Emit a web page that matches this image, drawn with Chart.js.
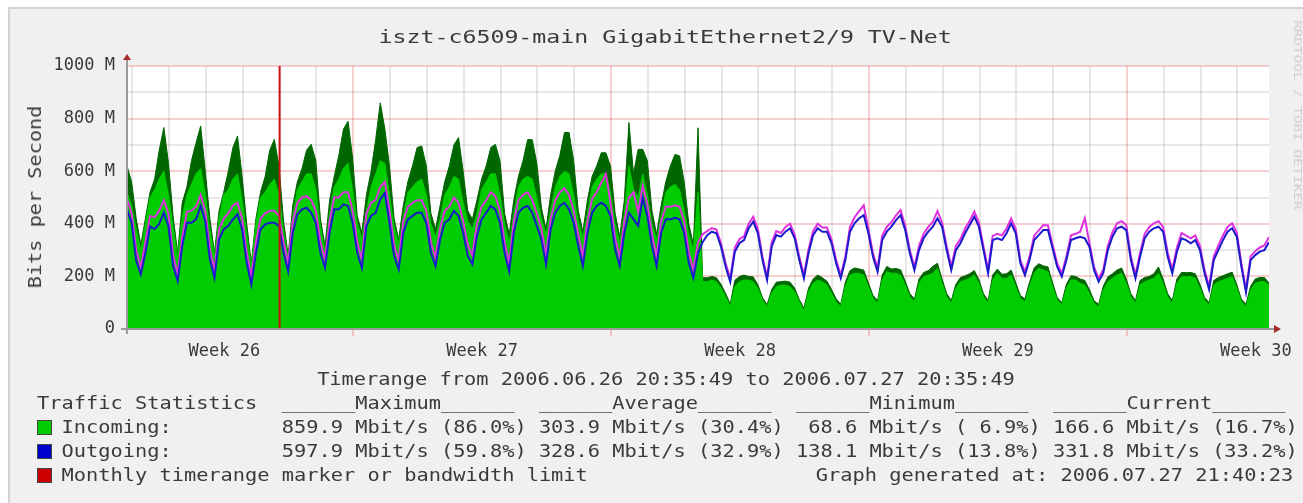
<!DOCTYPE html>
<html lang="en">
<head>
<meta charset="UTF-8">
<title>iszt-c6509-main GigabitEthernet2/9 TV-Net</title>
<script src="https://cdn.jsdelivr.net/npm/chart.js"></script>
<style>
    body { margin: 0; background: #fff; width: 1303px; height: 503px; overflow: hidden; position: relative; }
    #frame {
        position: absolute; left: 8px; top: 7px; width: 1295px; height: 496px;
        background: #f0f0f0; border-top: 2px solid #d2d2d2; border-left: 2px solid #d2d2d2;
        box-sizing: border-box;
    }
    #chart { position: absolute; left: 0; top: 0; }
    .mono {
        position: absolute; font-family: "DejaVu Sans Mono", monospace; font-size: 17px;
        line-height: 20px; color: #3a3a3a; white-space: pre;
    }
    .stretch { transform-origin: 0 50%; transform: scaleX(1.196); }
    .box { position: absolute; width: 13px; height: 13px; border: 1px solid #444; }
</style>
</head>
<body>
<div id="frame"></div>
<canvas id="chart" width="1303" height="503"></canvas>

<!-- title, axis title and the statistics block are plain text -->
<div class="mono" style="left:0; top:27px; width:1330px; text-align:center; font-size:18px;"><span style="display:inline-block; transform:scaleX(1.29);">iszt-c6509-main GigabitEthernet2/9 TV-Net</span></div>
<div class="mono" style="left:35px; top:197px; transform:translate(-50%,-50%) rotate(-90deg) scaleX(1.19);">Bits per Second</div>
<div class="mono" style="left:1297px; top:115px; font-size:11px; color:#cfcfcf; transform:translate(-50%,-50%) rotate(90deg) scaleX(1.3);">RRDTOOL / TOBI OETIKER</div>
<div id="stats"></div>

<script>
    // samples every 3 hours, first one at 2006-06-26 20:35:49
    const STEP_H = 3;
    const START = Date.UTC(2006, 5, 26, 20, 35, 49);

    // incoming, maximum (dark green area)
    const inMax = [
        620, 560, 420, 320, 420, 520, 570, 680,
        766, 632, 430, 290, 480, 540, 640, 708,
        772, 600, 420, 290, 450, 520, 600, 690,
        734, 580, 400, 250, 420, 520, 580, 680,
        721, 620, 410, 280, 470, 560, 610, 680,
        702, 640, 420, 316, 490, 580, 660, 760,
        790, 650, 430, 366, 510, 600, 720, 860,
        760, 620, 420, 341, 470, 560, 620, 690,
        696, 620, 440, 380, 470, 560, 620, 700,
        728, 600, 450, 417, 490, 570, 620, 690,
        702, 640, 440, 360, 490, 580, 640, 720,
        720, 630, 460, 380, 510, 600, 660, 747,
        747, 640, 450, 370, 490, 580, 620, 670,
        670, 620, 440, 350, 490, 785, 590, 683,
        683, 640, 450, 360, 470, 560, 620, 664,
        658, 560, 400, 320, 765, 195, 195, 200,
        195, 170, 135, 95, 185, 200, 205, 200,
        198, 168, 120, 92, 150, 178, 180, 182,
        178, 155, 112, 79, 155, 190, 205, 195,
        182, 150, 115, 94, 178, 222, 232, 228,
        224, 175, 128, 108, 205, 238, 228, 230,
        225, 182, 135, 114, 190, 215, 222, 238,
        250, 190, 135, 108, 170, 196, 202, 210,
        222, 188, 134, 108, 205, 228, 208, 210,
        224, 176, 128, 114, 178, 232, 248, 240,
        236, 176, 120, 100, 170, 202, 200, 190,
        185, 150, 108, 93, 162, 198, 210, 224,
        232, 190, 134, 108, 184, 196, 200, 210,
        236, 190, 134, 108, 190, 215, 214, 215,
        210, 170, 120, 100, 184, 196, 202, 210,
        216, 168, 114, 94, 162, 190, 196, 196,
        175
    ];

    // incoming, average (bright green area)
    const inAvg = [
        520, 470, 380, 300, 400, 500, 530, 570,
        600, 510, 390, 270, 430, 510, 550, 590,
        610, 510, 380, 275, 420, 510, 530, 570,
        590, 490, 360, 240, 400, 500, 520, 550,
        570, 510, 370, 265, 430, 530, 560, 590,
        590, 530, 390, 290, 440, 540, 570, 610,
        630, 530, 400, 345, 450, 540, 590, 640,
        630, 510, 390, 325, 430, 520, 540, 560,
        570, 510, 400, 350, 420, 510, 540, 580,
        570, 480, 410, 380, 440, 530, 560, 590,
        590, 510, 400, 330, 440, 540, 570, 580,
        570, 500, 420, 360, 450, 540, 580, 600,
        590, 510, 410, 350, 440, 540, 570, 590,
        590, 520, 400, 330, 440, 620, 530, 500,
        590, 510, 400, 340, 430, 520, 540, 550,
        530, 450, 360, 300, 520, 180, 180, 186,
        180, 155, 123, 85, 161, 180, 186, 186,
        180, 155, 110, 85, 136, 161, 167, 167,
        161, 142, 104, 69, 142, 174, 186, 180,
        167, 136, 104, 85, 161, 205, 212, 212,
        205, 161, 117, 98, 186, 218, 212, 212,
        205, 167, 123, 104, 174, 199, 205, 212,
        231, 174, 123, 98, 155, 180, 186, 193,
        205, 174, 123, 98, 186, 212, 193, 193,
        205, 161, 117, 104, 161, 212, 231, 224,
        218, 161, 110, 91, 155, 186, 186, 174,
        167, 136, 98, 85, 148, 180, 193, 205,
        212, 174, 123, 98, 167, 180, 186, 193,
        212, 174, 123, 98, 174, 199, 199, 199,
        193, 155, 110, 91, 167, 180, 186, 193,
        199, 155, 104, 85, 148, 174, 180, 180,
        167
    ];

    // outgoing, maximum (magenta line)
    const outMax = [
        495, 440, 300, 235, 330, 430, 425, 450,
        490, 440, 280, 210, 350, 445, 450, 465,
        510, 450, 300, 225, 380, 420, 440, 470,
        480, 420, 290, 200, 330, 420, 440, 450,
        450, 430, 330, 250, 410, 480, 500, 505,
        490, 450, 330, 265, 410, 500, 500, 520,
        520, 450, 330, 265, 440, 480, 490, 540,
        560, 450, 320, 260, 410, 465, 480, 490,
        490, 450, 330, 270, 385, 450, 465, 500,
        480, 410, 320, 280, 400, 465, 490, 520,
        505, 450, 330, 250, 410, 490, 510, 520,
        490, 440, 380, 280, 420, 490, 520, 535,
        510, 450, 360, 275, 410, 495, 520, 556,
        590, 480, 345, 275, 410, 500, 520, 445,
        545, 475, 360, 275, 410, 465, 465, 470,
        465, 410, 290, 225, 330, 360, 372, 384,
        378, 325, 250, 192, 310, 342, 352, 400,
        427, 380, 275, 198, 330, 372, 365, 388,
        400, 358, 275, 205, 302, 372, 400, 386,
        386, 340, 262, 205, 276, 388, 425, 448,
        470, 380, 288, 230, 355, 388, 406, 432,
        452, 392, 300, 236, 316, 362, 388, 407,
        448, 405, 315, 238, 316, 342, 382, 412,
        446, 405, 314, 225, 354, 362, 356, 382,
        420, 380, 262, 218, 276, 355, 375, 395,
        394, 320, 250, 210, 276, 356, 362, 370,
        421, 328, 236, 192, 225, 316, 368, 402,
        410, 395, 276, 206, 290, 362, 388, 402,
        410, 388, 290, 226, 310, 365, 355, 345,
        356, 316, 225, 162, 276, 318, 356, 388,
        402, 368, 250, 150, 276, 296, 310, 318,
        350
    ];

    // outgoing, average (blue line)
    const outAvg = [
        455, 404, 260, 208, 290, 390, 380, 400,
        442, 392, 240, 183, 316, 404, 404, 417,
        468, 410, 265, 195, 341, 379, 392, 417,
        436, 379, 252, 170, 290, 379, 398, 404,
        404, 392, 290, 220, 366, 436, 455, 461,
        442, 404, 290, 233, 366, 455, 455, 474,
        468, 404, 290, 233, 392, 430, 442, 493,
        518, 404, 278, 227, 366, 417, 430, 442,
        442, 404, 290, 240, 341, 404, 417, 449,
        430, 366, 278, 246, 354, 417, 442, 468,
        455, 404, 290, 220, 366, 442, 461, 468,
        442, 392, 341, 246, 379, 442, 468, 480,
        455, 404, 316, 240, 366, 442, 468, 480,
        468, 430, 303, 240, 366, 442, 417, 392,
        499, 430, 316, 240, 366, 417, 417, 423,
        417, 366, 252, 195, 290, 330, 357, 370,
        364, 313, 237, 180, 294, 326, 338, 383,
        408, 364, 262, 186, 313, 357, 351, 370,
        383, 345, 262, 193, 288, 357, 383, 370,
        370, 326, 250, 193, 262, 370, 402, 421,
        433, 364, 275, 218, 338, 370, 389, 414,
        433, 376, 288, 224, 300, 345, 370, 389,
        421, 389, 300, 224, 300, 326, 364, 395,
        427, 389, 300, 212, 338, 345, 338, 364,
        402, 364, 250, 205, 262, 338, 357, 376,
        376, 307, 237, 199, 262, 338, 345, 351,
        345, 313, 224, 180, 212, 300, 351, 383,
        389, 376, 262, 193, 275, 345, 370, 383,
        389, 370, 275, 212, 294, 345, 338, 326,
        338, 300, 212, 150, 262, 300, 338, 370,
        383, 351, 237, 140, 262, 281, 294, 300,
        330
    ];

    const weekLabels = ['Week 26', 'Week 27', 'Week 28', 'Week 29', 'Week 30'];
    const weekCenterDays = [[6, 29], [7, 6], [7, 13], [7, 20], [7, 27]];   // Thursdays, 12:00
    const mondayDays = [[7, 3], [7, 10], [7, 17], [7, 24]];
    const monthMarkerDay = [7, 1];

    const statHeaders = ['______Maximum______', '______Average______', '______Minimum______', '______Current______'];
    const statsIn = ['859.9 Mbit/s (86.0%)', '303.9 Mbit/s (30.4%)', ' 68.6 Mbit/s ( 6.9%)', '166.6 Mbit/s (16.7%)'];
    const statsOut = ['597.9 Mbit/s (59.8%)', '328.6 Mbit/s (32.9%)', '138.1 Mbit/s (13.8%)', '331.8 Mbit/s (33.2%)'];

    const hoursAt = (m, d, h) => (Date.UTC(2006, m - 1, d, h || 0) - START) / 3600000;
    const toPoints = arr => arr.map((v, i) => ({ x: i * STEP_H, y: v }));

    const END_H = (inAvg.length - 1) * STEP_H;
    const midnights = [];
    for (let k = 0; k <= 30; k++) midnights.push((Date.UTC(2006, 5, 27 + k) - START) / 3600000);
    const mondays = mondayDays.map(([m, d]) => hoursAt(m, d));
    const weekCenters = weekCenterDays.map(([m, d]) => hoursAt(m, d, 12));
    const monthMarker = hoursAt(monthMarkerDay[0], monthMarkerDay[1]);

    const MAJOR = 'rgba(235, 110, 110, 0.33)';
    const MINOR = 'rgba(110, 110, 110, 0.17)';
    const NONE = 'rgba(0,0,0,0)';

    Chart.defaults.font.family = "'DejaVu Sans Mono', monospace";
    Chart.defaults.font.size = 17;
    Chart.defaults.color = '#3a3a3a';

    const plotBackground = {
        id: 'plotBackground',
        beforeDraw(chart) {
            const a = chart.chartArea, ctx = chart.ctx;
            ctx.save();
            ctx.fillStyle = '#ffffff';
            ctx.fillRect(a.left, a.top, a.right - a.left, a.bottom - a.top);
            ctx.restore();
        }
    };

    // rrdtool style axis lines with little arrow heads
    const axisArrows = {
        id: 'axisArrows',
        afterDraw(chart) {
            const a = chart.chartArea, ctx = chart.ctx;
            ctx.save();
            ctx.strokeStyle = '#9a9a9a';
            ctx.lineWidth = 2;
            ctx.beginPath();
            ctx.moveTo(a.left - 6, a.bottom);
            ctx.lineTo(a.right + 6, a.bottom);
            ctx.moveTo(a.left, a.bottom + 5);
            ctx.lineTo(a.left, a.top - 8);
            ctx.stroke();
            ctx.fillStyle = '#a52a2a';
            ctx.beginPath();
            ctx.moveTo(a.right + 5, a.bottom - 4);
            ctx.lineTo(a.right + 12, a.bottom);
            ctx.lineTo(a.right + 5, a.bottom + 4);
            ctx.fill();
            ctx.beginPath();
            ctx.moveTo(a.left - 4, a.top - 6);
            ctx.lineTo(a.left, a.top - 12);
            ctx.lineTo(a.left + 4, a.top - 6);
            ctx.fill();
            ctx.restore();
        }
    };

    new Chart(document.getElementById('chart'), {
        type: 'line',
        data: {
            datasets: [
                { label: 'Monthly timerange marker', data: [{ x: monthMarker, y: 0 }, { x: monthMarker, y: 1000 }],
                  borderColor: '#cc1111', borderWidth: 2, pointRadius: 0, fill: false, order: 0 },
                { label: 'Outgoing', data: toPoints(outAvg), borderColor: '#1a1acc', borderWidth: 2,
                  pointRadius: 0, fill: false, order: 1 },
                { label: 'Outgoing max', data: toPoints(outMax), borderColor: '#e030e0', borderWidth: 2,
                  pointRadius: 0, fill: false, order: 2 },
                { label: 'Incoming', data: toPoints(inAvg), borderColor: '#00cc00', backgroundColor: '#00cc00',
                  borderWidth: 1, pointRadius: 0, fill: 'origin', order: 3 },
                { label: 'Incoming max', data: toPoints(inMax), borderColor: '#006600', backgroundColor: '#006600',
                  borderWidth: 1, pointRadius: 0, fill: 'origin', order: 4 }
            ]
        },
        options: {
            responsive: false,
            animation: false,
            devicePixelRatio: 1,
            layout: { padding: { left: 0, right: 34, top: 66, bottom: 134 } },
            elements: { line: { tension: 0 } },
            plugins: { legend: { display: false }, title: { display: false }, tooltip: { enabled: false } },
            scales: {
                x: {
                    type: 'linear', min: 0, max: END_H, z: 1,
                    afterBuildTicks(scale) {
                        scale.ticks = [...midnights, ...weekCenters].sort((p, q) => p - q).map(v => ({ value: v }));
                    },
                    afterFit(scale) { scale.height = 40; },
                    ticks: {
                        autoSkip: false, maxRotation: 0, padding: 5,
                        callback(v) {
                            const k = weekCenters.indexOf(v);
                            return k >= 0 ? weekLabels[k] : '';
                        }
                    },
                    grid: {
                        lineWidth: 2, tickLength: 7,
                        color(c) {
                            const v = c.tick ? c.tick.value : null;
                            if (weekCenters.includes(v)) return NONE;
                            return mondays.includes(v) ? MAJOR : MINOR;
                        },
                        tickColor(c) {
                            const v = c.tick ? c.tick.value : null;
                            return mondays.includes(v) ? MAJOR : NONE;
                        }
                    },
                    border: { display: false }
                },
                y: {
                    min: 0, max: 1000, z: 1,
                    afterFit(scale) { scale.width = 127; },
                    ticks: {
                        stepSize: 100, padding: 6,
                        callback(v) {
                            if (v % 200 !== 0) return '';
                            return v === 0 ? '0' : v + ' M';
                        }
                    },
                    grid: {
                        lineWidth: 2, tickLength: 6,
                        color(c) { return c.tick && c.tick.value % 200 === 0 ? MAJOR : MINOR; },
                        tickColor(c) { return c.tick && c.tick.value === 0 ? '#9a9a9a' : NONE; }
                    },
                    border: { display: false }
                }
            }
        },
        plugins: [plotBackground, axisArrows]
    });

    // statistics block below the graph
    const stats = document.getElementById('stats');
    function addLine(text, top, opts) {
        const el = document.createElement('div');
        el.className = 'mono stretch';
        el.textContent = text;
        el.style.top = (top - 10) + 'px';
        if (opts && opts.center) {
            el.style.left = opts.center + 'px';
            el.style.transformOrigin = '50% 50%';
            el.style.transform = 'translateX(-50%) scaleX(1.196)';
        } else if (opts && opts.right) {
            el.style.right = opts.right + 'px';
            el.style.transformOrigin = '100% 50%';
        } else {
            el.style.left = '37px';
        }
        stats.appendChild(el);
    }
    function addBox(color, top) {
        const b = document.createElement('div');
        b.className = 'box';
        b.style.left = '37px';
        b.style.top = (top - 7) + 'px';
        b.style.background = color;
        stats.appendChild(b);
    }
    const pad = (s, n) => s + ' '.repeat(Math.max(0, n - s.length));

    addLine('Timerange from 2006.06.26 20:35:49 to 2006.07.27 20:35:49', 379, { center: 666 });
    addLine(pad('Traffic Statistics', 20) + statHeaders.join('  '), 403);
    addLine(pad('  Incoming:', 20) + statsIn.join(' '), 427);
    addLine(pad('  Outgoing:', 20) + statsOut.join(' '), 451);
    addLine('  Monthly timerange marker or bandwidth limit', 475);
    addLine('Graph generated at: 2006.07.27 21:40:23', 475, { right: 10 });
    addBox('#00cc00', 427);
    addBox('#0000cc', 451);
    addBox('#cc0000', 475);
</script>
</body>
</html>
